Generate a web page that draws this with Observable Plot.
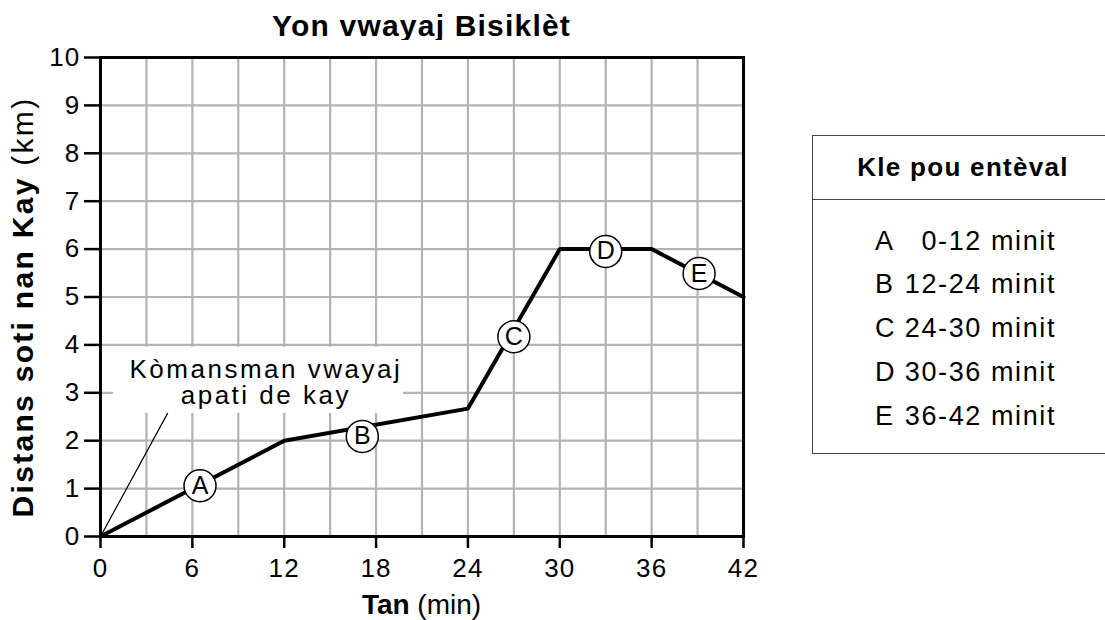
<!DOCTYPE html>
<html>
<head>
<meta charset="utf-8">
<script src="https://cdn.jsdelivr.net/npm/d3@7"></script>
<script src="https://cdn.jsdelivr.net/npm/@observablehq/plot@0.6"></script>
<style>
  html, body { margin: 0; padding: 0; background: #fff; overflow: hidden; width: 1105px; height: 620px; }
  body { position: relative; font-family: "Liberation Sans", Arial, Helvetica, sans-serif; color: #000; }
  #title { position: absolute; left: 100px; width: 643px; top: 8px; text-align: center; font-weight: bold;
           font-size: 30px; line-height: 36px; letter-spacing: 1.2px; }
  #chart { position: absolute; left: 0; top: 40px; }
  #legend { position: absolute; left: 812px; top: 135px; width: 320px; height: 319px; box-sizing: border-box;
            border: 1.5px solid #444; }
  #legend .head { position: absolute; left: 0; top: 0; width: 300px; height: 64px; box-sizing: border-box;
                  border-bottom: 1.5px solid #444; display: flex; align-items: center; justify-content: center;
                  font-weight: bold; font-size: 26px; letter-spacing: 1.3px; }
  #legend .row { position: absolute; left: 62px; width: 181px; height: 36px; line-height: 36px;
                 display: flex; justify-content: space-between; font-size: 27px; letter-spacing: 1.6px; white-space: nowrap; }
</style>
</head>
<body>
<div id="title"></div>
<div id="chart"></div>
<div id="legend"></div>
<script>
// ---- data ----
const chartTitle = "Yon vwayaj Bisiklèt";
const time = [0, 12, 24, 30, 36, 42];          // min
const distance = [0, 2, 2.67, 6, 6, 5];        // km
const segLetters = ["A", "B", "C", "D", "E"];
const letterX = [6.5, 17.1, 27.0, 33.0, 39.1];
const letterY = [1.06, 2.09, 4.17, 5.95, 5.49];
const xTickValues = [0, 6, 12, 18, 24, 30, 36, 42];
const xGridValues = [3, 6, 9, 12, 15, 18, 21, 24, 27, 30, 33, 36, 39];
const yTickValues = [0, 1, 2, 3, 4, 5, 6, 7, 8, 9, 10];
const yGridValues = [1, 2, 3, 4, 5, 6, 7, 8, 9];
const yLabelBold = "Distans soti nan Kay";
const yLabelUnit = " (km)";
const xLabelBold = "Tan";
const xLabelUnit = " (min)";
const legendTitle = "Kle pou entèval";
const legendLetters = ["A", "B", "C", "D", "E"];
const legendRanges = ["0-12 minit", "12-24 minit", "24-30 minit", "30-36 minit", "36-42 minit"];
const noteLines = ["Kòmansman vwayaj", "apati de kay"];
const noteLineX = [10.8, 10.8];
const noteLineY = [3.49, 2.93];
const noteBoxX = [0.85, 19.8];
const noteBoxY = [2.57, 3.95];
const leaderX = [0, 4.38];
const leaderY = [0, 2.57];

// ---- build tables ----
const trip = time.map((t, i) => ({t, d: distance[i]}));
const markers = segLetters.map((s, i) => ({s, x: letterX[i], y: letterY[i]}));
const notes = noteLines.map((s, i) => ({s, x: noteLineX[i], y: noteLineY[i]}));
const noteBox = [{x1: noteBoxX[0], x2: noteBoxX[1], y1: noteBoxY[0], y2: noteBoxY[1]}];
const leader = leaderX.map((x, i) => ({x, y: leaderY[i]}));

document.getElementById("title").textContent = chartTitle;

const gridColor = "#b3b3b3";
const plot = Plot.plot({
  width: 770,
  height: 580,
  marginLeft: 100,
  marginRight: 27,
  marginTop: 17,
  marginBottom: 84,
  style: {fontFamily: '"Liberation Sans", Arial, Helvetica, sans-serif', fontSize: "26px", color: "#000", background: "white", overflow: "visible"},
  x: {domain: [0, 42], label: null},
  y: {domain: [0, 10], label: null},
  marks: [
    Plot.ruleX(xGridValues, {stroke: gridColor, strokeWidth: 2.2}),
    Plot.ruleY(yGridValues, {stroke: gridColor, strokeWidth: 2.2}),
    Plot.rect(noteBox, {x1: "x1", x2: "x2", y1: "y1", y2: "y2", fill: "white"}),
    Plot.line(leader, {x: "x", y: "y", stroke: "black", strokeWidth: 1.2}),
    Plot.text(notes, {x: "x", y: "y", text: "s", fontSize: 26, fill: "black"}),
    Plot.line(trip, {x: "t", y: "d", stroke: "black", strokeWidth: 4, strokeLinejoin: "miter"}),
    Plot.dot(markers, {x: "x", y: "y", r: 16, fill: "white", stroke: "black", strokeWidth: 1.5}),
    Plot.text(markers, {x: "x", y: "y", text: "s", fontSize: 25, fill: "black"}),
    Plot.frame({stroke: "black", strokeWidth: 3}),
    Plot.axisX(xTickValues, {tickSize: 12, tickPadding: 10, strokeWidth: 2.5, fontSize: 26, label: null}),
    Plot.axisY(yTickValues, {tickSize: 16, tickPadding: 4, strokeWidth: 2.5, fontSize: 26, label: null})
  ]
});
document.getElementById("chart").appendChild(plot);

const svg = d3.select(plot);
svg.selectAll("text")
  .filter(function() { return noteLines.includes(this.textContent); })
  .attr("letter-spacing", "2.5px")
  .style("letter-spacing", "2.5px");
svg.selectAll('g[aria-label="x-axis tick label"] text, g[aria-label="y-axis tick label"] text')
  .style("letter-spacing", "1.2px");

const yl = svg.append("text")
  .attr("transform", "translate(33,267) rotate(-90)")
  .attr("text-anchor", "middle")
  .attr("font-size", 30)
  .attr("letter-spacing", "2.3px")
  .attr("fill", "black");
yl.append("tspan").attr("font-weight", "bold").text(yLabelBold);
yl.append("tspan").text(yLabelUnit);

const xl = svg.append("text")
  .attr("x", 421.5)
  .attr("y", 574)
  .attr("text-anchor", "middle")
  .attr("font-size", 28)
  .attr("fill", "black");
xl.append("tspan").attr("font-weight", "bold").text(xLabelBold);
xl.append("tspan").text(xLabelUnit);

// ---- legend ----
const legend = document.getElementById("legend");
const head = document.createElement("div");
head.className = "head";
head.textContent = legendTitle;
legend.appendChild(head);
const rowCenters = [105, 148, 192, 236, 280];
legendLetters.forEach((l, i) => {
  const row = document.createElement("div");
  row.className = "row";
  row.style.top = (rowCenters[i] - 18) + "px";
  const a = document.createElement("span"); a.textContent = l;
  const b = document.createElement("span"); b.textContent = legendRanges[i];
  row.appendChild(a); row.appendChild(b);
  legend.appendChild(row);
});
</script>
</body>
</html>
